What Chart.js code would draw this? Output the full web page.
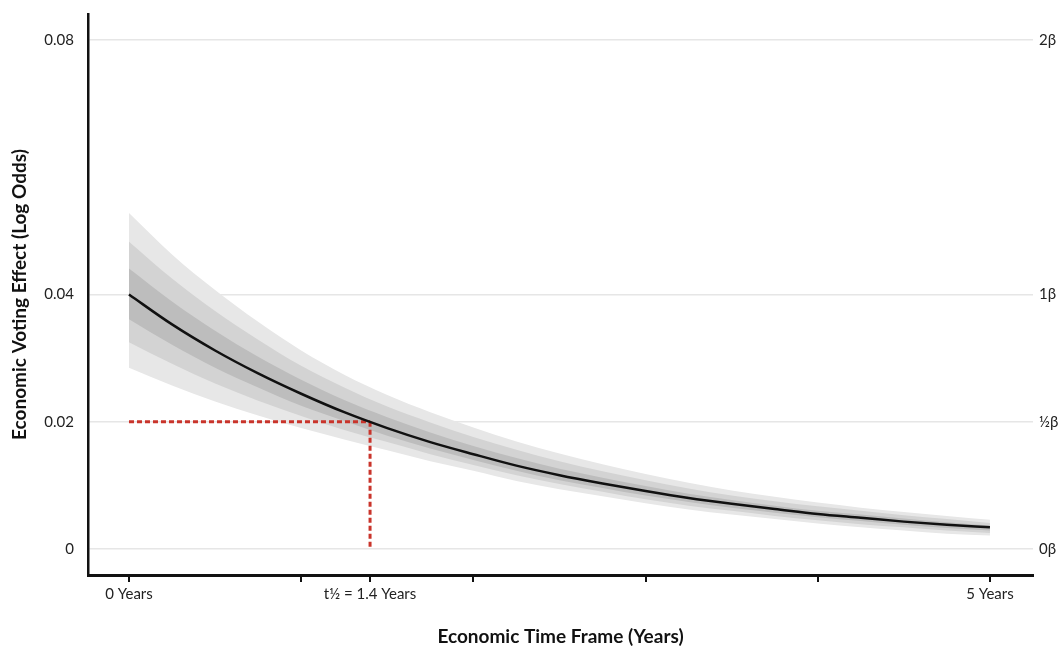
<!DOCTYPE html>
<html>
<head>
<meta charset="utf-8">
<script src="https://cdn.jsdelivr.net/npm/chart.js@4.4.1/dist/chart.umd.min.js"></script>
<style>
html,body{margin:0;padding:0;background:#fff;}
#wrap{width:1063px;height:648px;position:relative;}
</style>
</head>
<body>
<div id="wrap"><canvas id="c"></canvas></div>
<script>
// Time (years)
const years = [0,0.25,0.5,0.75,1,1.25,1.5,1.75,2,2.25,2.5,2.75,3,3.25,3.5,3.75,4,4.25,4.5,4.75,5];
// Central estimate (log odds)
const effect = [0.0400,0.0353,0.0312,0.0276,0.0244,0.0215,0.0190,0.0168,0.0149,0.0131,0.0116,0.0103,0.0091,0.0080,0.0071,0.0063,0.0055,0.0049,0.0043,0.0038,0.0034];
// Uncertainty bands
const outerUpper = [0.0528,0.0463,0.0407,0.0357,0.0312,0.0274,0.0242,0.0215,0.0191,0.0169,0.0150,0.0133,0.0118,0.0104,0.0092,0.0082,0.0073,0.0065,0.0058,0.0052,0.0046];
const outerLower = [0.0285,0.0257,0.0232,0.0210,0.0190,0.0172,0.0155,0.0138,0.0123,0.0107,0.0094,0.0083,0.0072,0.0062,0.0054,0.0047,0.0040,0.0034,0.0029,0.0024,0.0021];
const midUpper = [0.0483,0.0425,0.0374,0.0329,0.0288,0.0254,0.0224,0.0199,0.0176,0.0156,0.0138,0.0122,0.0108,0.0095,0.0084,0.0075,0.0067,0.0060,0.0053,0.0047,0.0041];
const midLower = [0.0325,0.0291,0.0260,0.0233,0.0209,0.0187,0.0168,0.0149,0.0132,0.0116,0.0102,0.0090,0.0078,0.0068,0.0060,0.0052,0.0045,0.0039,0.0034,0.0029,0.0025];
const innerUpper = [0.0441,0.0389,0.0343,0.0302,0.0266,0.0234,0.0207,0.0183,0.0162,0.0143,0.0126,0.0112,0.0099,0.0087,0.0077,0.0068,0.0060,0.0054,0.0048,0.0042,0.0037];
const innerLower = [0.0361,0.0321,0.0285,0.0254,0.0225,0.0201,0.0178,0.0158,0.0140,0.0123,0.0108,0.0096,0.0084,0.0074,0.0065,0.0057,0.0050,0.0044,0.0038,0.0033,0.0029];
// Half-life marker
const halfLife = 1.4;
const halfValue = 0.02;
// Ticks
const xTickValues = [0,1,1.4,2,3,4,5];
const xTickLabels = {"0":"0 Years","1.4":"t½ = 1.4 Years","5":"5 Years"};
const yTickValues = [0,0.02,0.04,0.08];
const yTickLabels = ["0","0.02","0.04","0.08"];
const yRightLabels = ["0β","½β","1β","2β"];

const pts = arr => years.map((t,i)=>({x:t,y:arr[i]}));
const band = (data,color,order,fillTarget)=>({
  data:pts(data), borderWidth:0, pointRadius:0, backgroundColor:color,
  fill: fillTarget===null?false:{target:fillTarget}, order:order,
  cubicInterpolationMode:'monotone'
});

const FONT = 'Lato, "Open Sans", sans-serif';
const Y_MIN = -0.00409, Y_MAX = 0.08409;

new Chart(document.getElementById('c'),{
  type:'line',
  data:{datasets:[
    {data:pts(effect),borderColor:'#111',borderWidth:2.5,pointRadius:0,fill:false,order:0,cubicInterpolationMode:'monotone'},
    {data:[{x:0,y:halfValue},{x:halfLife,y:halfValue}],borderColor:'#c9342b',borderWidth:3,borderDash:[5,3],pointRadius:0,fill:false,order:0},
    {data:[{x:halfLife,y:halfValue},{x:halfLife,y:0}],borderColor:'#c9342b',borderWidth:3,borderDash:[5,3],pointRadius:0,fill:false,order:0},
    band(innerUpper,'#bdbdbd',1,4),
    band(innerLower,'#bdbdbd',1,null),
    band(midUpper,'#d3d3d3',2,6),
    band(midLower,'#d3d3d3',2,null),
    band(outerUpper,'#e7e7e7',3,8),
    band(outerLower,'#e7e7e7',3,null)
  ]},
  options:{
    responsive:true, maintainAspectRatio:false, animation:false,
    layout:{padding:{top:14,left:0,right:0,bottom:0}},
    plugins:{legend:{display:false},tooltip:{enabled:false}},
    scales:{
      x:{type:'linear',position:'bottom',min:-0.238,max:5.25,
        afterBuildTicks:s=>{s.ticks=xTickValues.map(v=>({value:v}));},
        afterFit:s=>{s.height=73;s.paddingLeft=0;s.paddingRight=0;},
        grid:{drawOnChartArea:false,drawTicks:true,tickLength:7,color:'#111',lineWidth:2},
        border:{display:true,color:'#111',width:3},
        ticks:{autoSkip:false,maxRotation:0,padding:3,color:'#222',font:{family:FONT,size:15},
          callback:v=>xTickLabels[String(Math.round(v*10)/10)]||''},
        title:{display:true,text:'Economic Time Frame (Years)',color:'#111',font:{family:FONT,size:19,weight:'bold'},padding:{top:0,bottom:0}}
      },
      y:{type:'linear',position:'left',min:Y_MIN,max:Y_MAX,
        afterBuildTicks:s=>{s.ticks=yTickValues.map(v=>({value:v}));},
        afterFit:s=>{s.width=88;s.paddingTop=0;s.paddingBottom=0;},
        grid:{drawTicks:false,color:'#e6e6e6',lineWidth:1.5},
        border:{display:true,color:'#111',width:2.5},
        ticks:{padding:14,color:'#222',font:{family:FONT,size:15},
          callback:(v,i)=>yTickLabels[i]},
        title:{display:true,text:'Economic Voting Effect (Log Odds)',color:'#111',font:{family:FONT,size:19,weight:'bold'},padding:{top:8,bottom:0}}
      },
      y2:{type:'linear',position:'right',min:Y_MIN,max:Y_MAX,
        afterBuildTicks:s=>{s.ticks=yTickValues.map(v=>({value:v}));},
        afterFit:s=>{s.width=30;s.paddingTop=0;s.paddingBottom=0;},
        grid:{display:false,drawTicks:false},
        border:{display:false},
        ticks:{padding:6,color:'#222',font:{family:FONT,size:15},
          callback:(v,i)=>yRightLabels[i]}
      }
    }
  }
});
</script>
</body>
</html>
